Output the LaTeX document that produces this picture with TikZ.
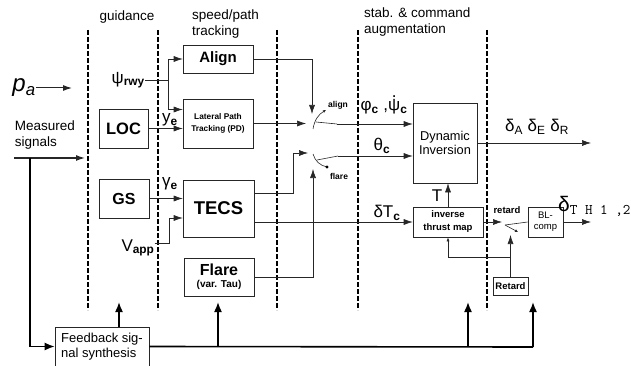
\documentclass[tikz,border=0pt]{standalone}
\usepackage{fontspec}
\setmainfont{Liberation Sans}
\usepackage{amsmath, amssymb}
\usetikzlibrary{arrows.meta, positioning, calc}
\newcommand{\pfont}[2]{\fontsize{#1}{#2}\selectfont}
\newcommand{\psidot}{{\ooalign{ψ\cr\hidewidth\raisebox{0.78em}{.}\hidewidth\cr}}}
\tikzset{
  blk/.style={draw=black!85, line width=0.6pt, align=center, inner sep=1pt},
  sig/.style={-{Latex[length=9pt,width=6pt]}, line width=0.6pt, draw=black!85},
  ln/.style={line width=0.6pt, draw=black!85},
  bus/.style={-{Latex[length=10pt,width=8pt]}, line width=1.6pt},
  zone/.style={line width=1.3pt, dash pattern=on 5pt off 2pt},
  hdr/.style={font=\pfont{13.5}{16}, align=left, inner sep=0pt},
  lbl/.style={inner sep=0pt, font=\pfont{17}{18}},
  tiny/.style={inner sep=0pt, font=\bfseries\pfont{8.5}{9}}
}

\begin{document}
\begin{tikzpicture}[x=1pt, y=-1pt]
    \useasboundingbox (0,0) rectangle (631,366);
    % zone borders
    \foreach \xz in {88,158,277,358,487}
      \draw[zone] (\xz,30) -- (\xz,310);
    \node[hdr] (hguid) at (127,17) {guidance};
    \node[hdr, anchor=west] (hspeed) at (192,24) {speed/path\\tracking};
    \node[hdr, anchor=west] (hstab) at (364,22) {stab. \& command\\augmentation};

    % blocks
    \node[blk, minimum width=70pt, minimum height=28pt, font=\bfseries\pfont{15}{15}] (align) at (218,59) {Align};
    \node[blk, minimum width=70pt, minimum height=49pt, font=\bfseries\pfont{8.3}{12}] (lpt) at (218,123.5) {Lateral Path\\Tracking (PD)};
    \node[blk, minimum width=49pt, minimum height=39pt, font=\bfseries\pfont{16.5}{16}] (loc) at (123.5,128.5) {LOC};
    \node[blk, minimum width=50pt, minimum height=39pt, font=\bfseries\pfont{16}{16}] (gs) at (124,198.5) {GS};
    \node[blk, minimum width=71pt, minimum height=57pt, font=\bfseries\pfont{18.5}{18}] (tecs) at (218.5,208.5) {TECS};
    \node[blk, minimum width=70pt, minimum height=38pt, font=\bfseries] (flare) at (219,277) {{\pfont{16}{17}Flare}\\{\pfont{10}{11}(var. Tau)}};
    \node[blk, minimum width=94pt, minimum height=39pt, align=left, font=\pfont{13}{15}] (fbs) at (102,346.5) {Feedback sig-\\nal synthesis};
    \node[blk, minimum width=64pt, minimum height=80pt, font=\pfont{12.8}{14}] (dyninv) at (445,143) {Dynamic\\Inversion};
    \node[blk, minimum width=70pt, minimum height=30pt, font=\bfseries\pfont{9.5}{13}] (itm) at (448,222) {inverse\\thrust map};
    \node[blk, minimum width=35pt, minimum height=30pt, font=\pfont{9.5}{11}] (blc) at (545.5,222) {BL-\\comp};
    \node[blk, minimum width=35pt, minimum height=18pt, font=\bfseries\pfont{9.5}{10}] (ret) at (510.5,286) {Retard};

    % inputs
    \node[lbl, font=\itshape\pfont{24}{24}] (pa) at (24,88) {p\textsubscript{a}};
    \coordinate (paend) at (72,88);
    \draw[sig, line width=1pt] (pa.east) -- (paend);
    \node[hdr] (meas) at (45,135) {Measured\\signals};
    \coordinate (msin) at (14,158);
    \coordinate (msend) at (85,158);
    \coordinate (msdown) at (30,158);
    \draw[sig, line width=1.2pt] (msin) -- (msend);
    \draw[bus] (msdown) |- (fbs.west);

    % guidance to tracking
    \node[lbl, anchor=east] (psirwy) at (145,80) {ψ\textsubscript{\bfseries rwy}};
    \coordinate (psijn) at (168,80);
    \draw[ln] (psirwy.east) -- (psijn);
    \draw[sig] (psijn) |- (align.west);
    \draw[sig] (psijn) |- ([yshift=14pt]lpt.west);
    \draw[sig] (loc.east) -- (loc.east -| lpt.west);
    \node[lbl] (ye) at (170,120) {y\textsubscript{\bfseries e}};
    \draw[sig] (gs.east) -- (gs.east -| tecs.west);
    \node[lbl] (gammae) at (170,184) {γ\textsubscript{\bfseries e}};
    \node[lbl] (vapp) at (138,248) {V\textsubscript{\bfseries app}};
    \coordinate (vjn) at (169,218);
    \draw[sig] ([yshift=5pt]vapp.east) -| (vjn) -- (vjn -| tecs.west);

    % align switch
    \coordinate (swa) at (306,123.5);
    \coordinate (swatop) at (312,114);
    \coordinate (swapiv) at (316,122);
    \coordinate (swaout) at (337,124);
    \draw[sig] (lpt.east) -- (swa);
    \draw[sig] (align.east) -| (swatop);
    \draw[ln] (swapiv) -- (swaout);
    \draw[sig] (swaout) -- (swaout -| dyninv.west);
    \draw[ln, -{Latex[length=3pt,width=3pt]}] ($(swapiv)+(-3,7)$) to[bend left=25] ($(swapiv)+(10,-12)$);
    \node[tiny] (lalign) at (338,105) {align};

    % flare switch
    \coordinate (swf) at (308,153);
    \coordinate (swfbend) at (293,153);
    \coordinate (swfpiv) at (317,160);
    \coordinate (swfout) at (338,156);
    \coordinate (swfbot) at (313,169);
    \draw[sig] ([yshift=15.5pt]tecs.east) -| (swfbend) -- (swf);
    \draw[ln] (swfpiv) -- (swfout);
    \draw[sig] (swfout) -- (swfout -| dyninv.west);
    \draw[ln] ($(swfpiv)+(-4,-6)$) to[bend right=30] ($(swfpiv)+(10,7)$);
    \fill ($(swfpiv)+(10,7)$) circle (1.6pt);
    \draw[sig] (flare.east) -| (swfbot);
    \node[tiny] (lflare) at (339,176) {flare};

    % commands
    \node[lbl] (phic) at (384,107) {φ\textsubscript{\bfseries c} ,\psidot\textsubscript{\bfseries c}};
    \node[lbl] (thetac) at (382,146) {θ\textsubscript{\bfseries c}};
    \draw[sig] (itm.west -| tecs.east) -- (itm.west);
    \node[lbl] (dtc) at (387,213) {δT\textsubscript{\bfseries c}};
    \coordinate (dout) at (591,143);
    \draw[sig] (dyninv.east) -- (dout);
    \node[lbl] (daer) at (537,127) {δ\textsubscript{A}\ δ\textsubscript{E}\ δ\textsubscript{R}};
    \draw[sig] (itm.north) -- (itm.north |- dyninv.south);
    \node[lbl] (tthr) at (437,196) {T};

    % retard switch
    \coordinate (swr) at (502,222);
    \coordinate (swrpiv) at (505,225);
    \coordinate (swrbot) at (510.5,235);
    \coordinate (retjn) at (510.5,257);
    \draw[sig] (itm.east) -- (swr);
    \draw[ln] (swrpiv) -- (blc.west);
    \draw[ln, -{Latex[length=3pt,width=3pt]}] (swrpiv) -- (518,232);
    \draw[sig] (ret.north) -- (swrbot);
    \draw[ln, -{Latex[length=4pt,width=3pt]}] (retjn) -| (itm.south);
    \node[tiny, font=\bfseries\pfont{9.5}{10}] (lretard) at (507,210) {retard};
    \coordinate (thout) at (591,222);
    \draw[sig] (blc.east) -- (thout);
    \node[lbl, anchor=west, font=\pfont{21}{21}] (dth) at (558,206) {δ\textsubscript{\ttfamily T H 1 ,2}};

    % feedback bus
    \coordinate (busend) at (533,347);
    \coordinate (fbup) at (119,302);
    \coordinate (up1) at (218,302);
    \coordinate (up2) at (468,302);
    \coordinate (up3) at (533,302);
    \draw[line width=1.6pt] (fbs.east) -- (busend);
    \draw[bus] (fbup |- fbs.north) -- (fbup);
    \draw[bus] (up1 |- busend) -- (up1);
    \draw[bus] (up2 |- busend) -- (up2);
    \draw[bus] (up3 |- busend) -- (up3);
  \end{tikzpicture}
\end{document}
